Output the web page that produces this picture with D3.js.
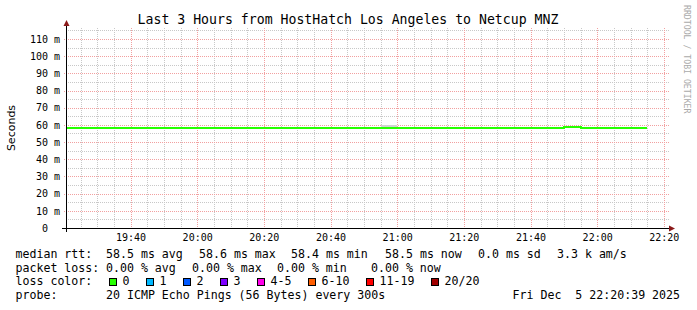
<!DOCTYPE html>
<html>
<head>
<meta charset="utf-8">
<script src="https://cdn.jsdelivr.net/npm/d3@7"></script>
<style>
  html, body { margin: 0; padding: 0; background: #fff; }
  svg { display: block; }
  text { font-family: "DejaVu Sans Mono", monospace; fill: #000; white-space: pre; }
</style>
</head>
<body>
<div id="graph"></div>
<script>
// 5 minute slots, the value belongs to the slot ending at that time
const slotStart = Date.UTC(2025, 11, 5, 19, 20, 0);
const slotMinutes = 5;

// median rtt per slot (ms)
const medianRtt = [58.5, 58.5, 58.5, 58.4, 58.5, 58.5, 58.5, 58.5, 58.4, 58.5,
                   58.5, 58.5, 58.5, 58.5, 58.5, 58.4, 58.5, 58.5, 58.5, 58.5,
                   58.5, 58.5, 58.5, 58.5, 58.5, 58.5, 58.4, 58.5, 58.5, 58.5,
                   59.0, 58.5, 58.5, 58.5, 58.5];
// spread of the 20 pings per slot (ms) -> smoke
const pingLow  = [58.3, 58.3, 58.3, 58.2, 58.3, 58.3, 58.3, 58.3, 58.2, 58.3,
                  58.3, 58.3, 58.3, 58.3, 58.3, 58.2, 58.3, 58.3, 58.3, 58.3,
                  58.3, 58.3, 58.3, 58.3, 58.3, 58.3, 58.2, 58.3, 58.3, 58.3,
                  58.6, 58.3, 58.3, 58.3, 58.3];
const pingHigh = [58.7, 58.7, 58.7, 58.6, 58.7, 58.7, 58.7, 58.7, 58.6, 58.7,
                  58.7, 58.7, 58.7, 58.7, 58.7, 58.6, 58.7, 58.7, 58.7, 59.9,
                  58.7, 58.7, 58.7, 58.7, 58.7, 58.7, 58.6, 58.7, 58.7, 58.7,
                  59.2, 58.7, 58.7, 58.7, 58.7];

const yTicks = [0, 10, 20, 30, 40, 50, 60, 70, 80, 90, 100, 110];
const yMax = 116.4;

const rttStats  = ['58.5 ms avg', '58.6 ms max', '58.4 ms min', '58.5 ms now', '0.0 ms sd', '3.3 k am/s'];
const lossStats = ['0.00 % avg', '0.00 % max', '0.00 % min', '0.00 % now'];
const lossLabels = ['0', '1', '2', '3', '4-5', '6-10', '11-19', '20/20'];
const lossColors = ['#26ff00', '#00b8ff', '#0059ff', '#7e00ff', '#ff00ea', '#ff5e00', '#ff0000', '#a10000'];
const probeText = '20 ICMP Echo Pings (56 Bytes) every 300s';
const stampText = 'Fri Dec  5 22:20:39 2025';
const titleText = 'Last 3 Hours from HostHatch Los Angeles to Netcup MNZ';

const width = 697, height = 310;
const plot = { left: 66, top: 28, width: 600, height: 200 };

let svg = d3.select('#graph')
  .append('svg')
  .attr('width', width)
  .attr('height', height);

svg.append('rect').attr('width', width).attr('height', height).attr('fill', '#fff');

let x = d3.scaleUtc()
  .domain([new Date(Date.UTC(2025, 11, 5, 19, 20, 39)), new Date(Date.UTC(2025, 11, 5, 22, 20, 39))])
  .range([plot.left, plot.left + plot.width]);

let y = d3.scaleLinear()
  .domain([0, yMax])
  .range([plot.top + plot.height, plot.top]);

// grid
let grid = svg.append('g');
let minorX = x.ticks(d3.utcMinute.every(5)).filter(d => d.getUTCMinutes() % 20 !== 0);
let majorX = x.ticks(d3.utcMinute.every(20));
let minorY = d3.range(5, yMax, 10);

grid.selectAll('.vminor').data(minorX).enter().append('line')
  .attr('x1', d => Math.round(x(d)) + 0.5).attr('x2', d => Math.round(x(d)) + 0.5)
  .attr('y1', plot.top).attr('y2', plot.top + plot.height)
  .attr('stroke', '#c8c8c8').attr('stroke-dasharray', '1,1');

grid.selectAll('.hminor').data(minorY).enter().append('line')
  .attr('x1', plot.left).attr('x2', plot.left + plot.width + 3)
  .attr('y1', d => Math.round(y(d)) + 0.5).attr('y2', d => Math.round(y(d)) + 0.5)
  .attr('stroke', '#c8c8c8').attr('stroke-dasharray', '1,1');

grid.selectAll('.vmajor').data(majorX).enter().append('line')
  .attr('x1', d => Math.round(x(d)) + 0.5).attr('x2', d => Math.round(x(d)) + 0.5)
  .attr('y1', plot.top).attr('y2', plot.top + plot.height + 2)
  .attr('stroke', '#f2a0a0').attr('stroke-dasharray', '1,1');

grid.selectAll('.hmajor').data(yTicks.slice(1)).enter().append('line')
  .attr('x1', plot.left - 2).attr('x2', plot.left + plot.width + 3)
  .attr('y1', d => Math.round(y(d)) + 0.5).attr('y2', d => Math.round(y(d)) + 0.5)
  .attr('stroke', '#f2a0a0').attr('stroke-dasharray', '1,1');

// data
let data = medianRtt.map((v, i) => ({
  t: new Date(slotStart + i * slotMinutes * 60000),
  t1: new Date(slotStart + (i + 1) * slotMinutes * 60000),
  median: v, lo: pingLow[i], hi: pingHigh[i]
}));

svg.append('clipPath').attr('id', 'clip')
  .append('rect').attr('x', plot.left).attr('y', plot.top)
  .attr('width', plot.width).attr('height', plot.height);

let chart = svg.append('g').attr('clip-path', 'url(#clip)');

chart.selectAll('.smoke').data(data).enter().append('rect')
  .attr('x', d => Math.round(x(d.t))).attr('width', d => Math.round(x(d.t1)) - Math.round(x(d.t)))
  .attr('y', d => Math.floor(y(d.hi))).attr('height', d => Math.ceil(y(d.lo)) - Math.floor(y(d.hi)))
  .attr('fill', '#d2d2d2');

let steps = data.map(d => [d.t, d.median]);
steps.push([data[data.length - 1].t1, data[data.length - 1].median]);

// snap to whole pixels like rrdtool does
chart.append('path')
  .datum(steps)
  .attr('fill', 'none')
  .attr('stroke', lossColors[0])
  .attr('stroke-width', 2)
  .attr('shape-rendering', 'crispEdges')
  .attr('d', d3.line().x(d => Math.round(x(d[0]))).y(d => Math.ceil(y(d[1]))).curve(d3.curveStepAfter));

// axes
let yAxis = svg.append('g')
  .attr('transform', `translate(${plot.left}, 0)`)
  .call(d3.axisLeft(y).tickValues(yTicks).tickSize(0).tickPadding(6)
    .tickFormat(d => d === 0 ? '0\u00a0\u00a0' : d + ' m'));
yAxis.select('.domain').remove();
yAxis.selectAll('text').style('font-family', '"DejaVu Sans Mono", monospace').style('font-size', '10px').attr('fill', '#000');

let xAxis = svg.append('g')
  .attr('transform', `translate(0, ${plot.top + plot.height})`)
  .call(d3.axisBottom(x).ticks(d3.utcMinute.every(20)).tickSize(0).tickPadding(6)
    .tickFormat(d3.utcFormat('%H:%M')));
xAxis.select('.domain').remove();
xAxis.selectAll('text').style('font-family', '"DejaVu Sans Mono", monospace').style('font-size', '10px').attr('fill', '#000');

let axisColor = '#000', arrowColor = '#8b1a1a';
svg.append('line')
  .attr('x1', plot.left + 0.5).attr('x2', plot.left + 0.5)
  .attr('y1', plot.top + plot.height + 4).attr('y2', plot.top - 3)
  .attr('stroke', axisColor);
svg.append('line')
  .attr('x1', plot.left - 4).attr('x2', plot.left + plot.width + 4)
  .attr('y1', plot.top + plot.height + 0.5).attr('y2', plot.top + plot.height + 0.5)
  .attr('stroke', axisColor);
svg.append('path')
  .attr('d', `M${plot.left - 2.5},${plot.top - 2} L${plot.left + 3.5},${plot.top - 2} L${plot.left + 0.5},${plot.top - 8} Z`)
  .attr('fill', arrowColor);
svg.append('path')
  .attr('d', `M${plot.left + plot.width + 3},${plot.top + plot.height - 2.5} L${plot.left + plot.width + 3},${plot.top + plot.height + 3.5} L${plot.left + plot.width + 9},${plot.top + plot.height + 0.5} Z`)
  .attr('fill', arrowColor);

// title and labels
svg.append('text')
  .attr('x', 348).attr('y', 24)
  .style('text-anchor', 'middle')
  .style('font-size', '13.2px')
  .text(titleText);

svg.append('text')
  .attr('transform', `translate(15, ${plot.top + plot.height / 2}) rotate(-90)`)
  .style('text-anchor', 'middle')
  .style('font-family', '"DejaVu Sans", sans-serif')
  .style('font-size', '11px')
  .text('Seconds');

svg.append('text')
  .attr('transform', 'translate(684, 5) rotate(90)')
  .style('font-size', '8.2px')
  .style('fill', '#aaa')
  .text('RRDTOOL / TOBI OETIKER');

// legend
let legend = svg.append('g').style('font-size', '11.6px');
let rowY = [258, 272, 285, 299];

legend.append('text').attr('x', 15.5).attr('y', rowY[0]).text('median rtt:');
[106, 199, 291, 385, 478, 557].forEach((px, i) => {
  legend.append('text').attr('x', px).attr('y', rowY[0]).text(rttStats[i]);
});

legend.append('text').attr('x', 15.5).attr('y', rowY[1]).text('packet loss:');
[106, 192, 277, 371].forEach((px, i) => {
  legend.append('text').attr('x', px).attr('y', rowY[1]).text(lossStats[i]);
});

legend.append('text').attr('x', 15.5).attr('y', rowY[2]).text('loss color:');
let lx = 109;
lossLabels.forEach((label, i) => {
  legend.append('rect')
    .attr('x', lx + 0.5).attr('y', rowY[2] - 6.5)
    .attr('width', 7).attr('height', 7)
    .attr('fill', lossColors[i]).attr('stroke', '#000');
  legend.append('text').attr('x', lx + 13.5).attr('y', rowY[2]).text(label);
  lx += 14 + label.length * 7 + 16;
});

legend.append('text').attr('x', 15.5).attr('y', rowY[3]).text('probe:');
legend.append('text').attr('x', 106).attr('y', rowY[3]).text(probeText);
legend.append('text').attr('x', 512.5).attr('y', rowY[3]).text(stampText);
</script>
</body>
</html>
